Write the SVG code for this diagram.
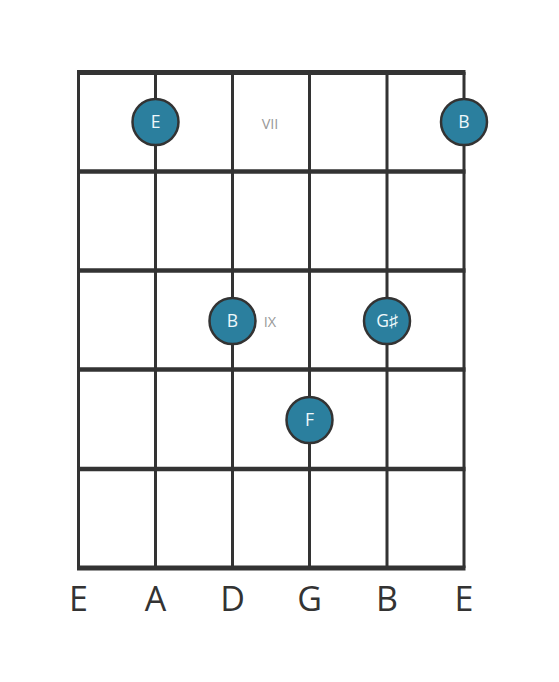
<svg xmlns="http://www.w3.org/2000/svg" width="559" height="682" viewBox="0 0 559 682">
<style>
.fret{stroke:#333;stroke-width:4.5;}
.str{stroke:#333;stroke-width:3;}
.dot{fill:#2b7f9e;stroke:#333;stroke-width:2.5;}
.nt{fill:#eef8fb;font-family:"Open Sans","Noto Sans",sans-serif;font-size:17.5px;text-anchor:middle;}
.pos{fill:#999;font-family:"Open Sans","Noto Sans",sans-serif;font-size:14.5px;text-anchor:middle;}
.sn{fill:#333;font-family:"Open Sans","Noto Sans",sans-serif;font-size:34px;text-anchor:middle;}
</style>
<rect width="559" height="682" fill="#fff"/>
<g id="grid">
<line class="str" x1="78.5" y1="72" x2="78.5" y2="568"/>
<line class="str" x1="155.5" y1="72" x2="155.5" y2="568"/>
<line class="str" x1="232.5" y1="72" x2="232.5" y2="568"/>
<line class="str" x1="309.5" y1="72" x2="309.5" y2="568"/>
<line class="str" x1="387" y1="72" x2="387" y2="568"/>
<line class="str" x1="464" y1="72" x2="464" y2="568"/>
<line class="fret" x1="77" y1="72.5" x2="465.5" y2="72.5" style="stroke-width:5"/>
<line class="fret" x1="77" y1="171.5" x2="465.5" y2="171.5"/>
<line class="fret" x1="77" y1="270.5" x2="465.5" y2="270.5"/>
<line class="fret" x1="77" y1="369.5" x2="465.5" y2="369.5"/>
<line class="fret" x1="77" y1="469" x2="465.5" y2="469"/>
<line class="fret" x1="77" y1="568" x2="465.5" y2="568" style="stroke-width:5"/>
</g>
<g id="positions">
<text class="pos" x="270" y="128.5">VII</text>
<text class="pos" x="270" y="327">IX</text>
</g>
<g id="note-E1"><circle class="dot" cx="155.5" cy="122" r="23"/><text class="nt" x="155.5" y="128">E</text></g>
<g id="note-B1"><circle class="dot" cx="464" cy="122" r="23"/><text class="nt" x="464" y="128">B</text></g>
<g id="note-B2"><circle class="dot" cx="232.5" cy="321" r="23"/><text class="nt" x="232.5" y="327">B</text></g>
<g id="note-Gs"><circle class="dot" cx="387" cy="321" r="23"/><text class="nt" x="387" y="327">G♯</text></g>
<g id="note-F"><circle class="dot" cx="309.5" cy="420" r="23"/><text class="nt" x="309.5" y="426">F</text></g>
<g id="strings">
<text class="sn" x="78.5" y="611">E</text>
<text class="sn" x="155.5" y="611">A</text>
<text class="sn" x="232.5" y="611">D</text>
<text class="sn" x="309.5" y="611">G</text>
<text class="sn" x="387" y="611">B</text>
<text class="sn" x="464" y="611">E</text>
</g>
</svg>
